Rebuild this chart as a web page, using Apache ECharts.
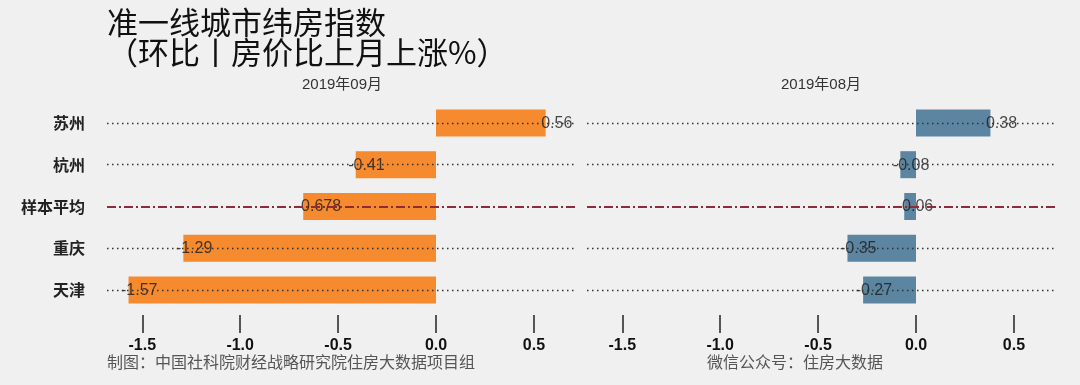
<!DOCTYPE html>
<html>
<head>
<meta charset="utf-8">
<script src="https://cdn.jsdelivr.net/npm/echarts@6/dist/echarts.min.js"></script>
<style>
html,body{margin:0;padding:0;background:#F0F0F0;}
#chart{width:1080px;height:385px;}
</style>
</head>
<body>
<div id="chart"></div>
<script>
const categories = ['苏州', '杭州', '样本平均', '重庆', '天津'];
const avgCategory = '样本平均';
const sepValues = [0.56, -0.41, -0.678, -1.29, -1.57];
const augValues = [0.38, -0.08, -0.06, -0.35, -0.27];
const panelTitles = ['2019年09月', '2019年08月'];
const tickValues = [-1.5, -1.0, -0.5, 0.0, 0.5];
const titleText = '准一线城市纬房指数\n（环比丨房价比上月上涨%）';
const footLeft = '制图：中国社科院财经战略研究院住房大数据项目组';
const footRight = '微信公众号：住房大数据';

const panels = [
  { values: sepValues, color: '#F68A2F', left: 107, center: 342 },
  { values: augValues, color: '#5B85A1', left: 587, center: 821 }
];

const grids = [], xAxes = [], yAxes = [], series = [];
panels.forEach((p, i) => {
  grids.push({ left: p.left, width: 470, top: 102, height: 209 });
  xAxes.push({
    type: 'value', gridIndex: i, min: -1.68, max: 0.72, offset: 4,
    splitLine: { show: false },
    axisLine: { show: false },
    axisTick: { show: true, length: 18, customValues: tickValues,
      lineStyle: { color: '#222', width: 1.5 } },
    axisLabel: { customValues: tickValues, margin: 23, fontSize: 16, fontWeight: 'bold',
      color: '#111', fontFamily: 'Liberation Sans, Arial',
      formatter: v => Number(v).toFixed(1) }
  });
  yAxes.push({
    type: 'category', gridIndex: i, data: categories, inverse: true,
    axisLine: { show: false }, axisTick: { show: false }, splitLine: { show: false },
    axisLabel: { show: i === 0, margin: 22, fontSize: 16, fontWeight: 'bold', color: '#222',
      fontFamily: 'Noto Sans CJK SC' }
  });
  // dotted guide lines (behind bars)
  series.push({
    type: 'scatter', xAxisIndex: i, yAxisIndex: i, data: [], z: 1, silent: true,
    markLine: {
      silent: true, symbol: ['none', 'none'], label: { show: false },
      lineStyle: { type: [1.5, 3.5], color: '#333', width: 1.3 },
      data: categories.filter(c => c !== avgCategory).map(c => ({ yAxis: c }))
    }
  });
  series.push({
    type: 'bar', xAxisIndex: i, yAxisIndex: i, data: p.values, barWidth: 27, z: 2,
    itemStyle: { color: p.color }, silent: true
  });
  // average dash-dot line (on top)
  series.push({
    type: 'scatter', xAxisIndex: i, yAxisIndex: i, data: [], z: 3, silent: true,
    markLine: {
      silent: true, symbol: ['none', 'none'], label: { show: false },
      lineStyle: { type: [9, 3, 2, 3], color: '#8E2A3A', width: 1.8 },
      data: [{ yAxis: avgCategory }]
    }
  });
  // value labels
  series.push({
    type: 'scatter', xAxisIndex: i, yAxisIndex: i, z: 4, symbolSize: 1, silent: true,
    itemStyle: { color: 'rgba(0,0,0,0)' },
    data: p.values.map((v, k) => ({
      value: [v, categories[k]],
      label: { position: [v < 0 ? -7 : -4, 1] }
    })),
    label: {
      show: true, align: 'left', verticalAlign: 'middle',
      fontSize: 16, color: '#1a1a1a', fontFamily: 'Liberation Sans, Arial',
      formatter: prm => String(prm.value[0])
    }
  });
});

const graphics = [
  { type: 'text', left: 107, top: 7, style: { text: titleText, fill: '#111', fontSize: 31,
    lineHeight: 30, fontFamily: 'Noto Sans CJK SC' } }
];
panels.forEach((p, i) => {
  graphics.push({ type: 'text', x: p.center, y: 85, style: { text: panelTitles[i], fill: '#333',
    fontSize: 15, fontFamily: 'Liberation Sans, Noto Sans CJK SC', align: 'center', verticalAlign: 'middle' } });
});
graphics.push({ type: 'text', x: 107, y: 362, style: { text: footLeft, fill: '#555', fontSize: 16,
  fontFamily: 'Noto Sans CJK SC', align: 'left', verticalAlign: 'middle' } });
graphics.push({ type: 'text', x: 707, y: 362, style: { text: footRight, fill: '#555', fontSize: 16,
  fontFamily: 'Noto Sans CJK SC', align: 'left', verticalAlign: 'middle' } });

const chart = echarts.init(document.getElementById('chart'));
chart.setOption({
  backgroundColor: '#F0F0F0',
  animation: false,
  grid: grids, xAxis: xAxes, yAxis: yAxes, series: series, graphic: graphics
});
</script>
</body>
</html>
